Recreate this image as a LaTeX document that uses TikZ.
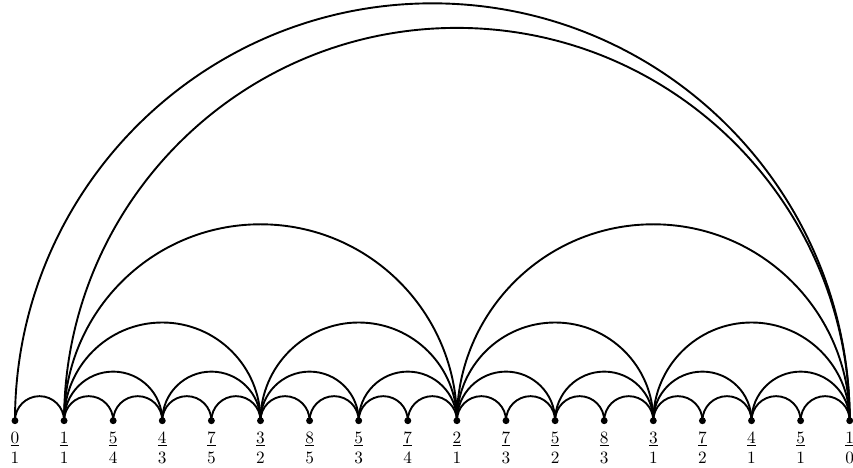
\documentclass[tikz,border=0pt]{standalone}
\usetikzlibrary{positioning}

\begin{document}
\begin{tikzpicture}[x=1cm,y=1cm,line width=1.1pt,
        dot/.style={circle, fill, inner sep=0pt, minimum size=4pt},
        frac/.style={inner sep=0pt, align=center}]
    \useasboundingbox (-0.305,-0.963) rectangle (17.067,8.568);
    % points on the line with their labels
    \foreach \num/\den [count=\i from 0] in {0/1,1/1,5/4,4/3,7/5,3/2,8/5,5/3,7/4,2/1,7/3,5/2,8/3,3/1,7/2,4/1,5/1,1/0} {
        \node (p\i) [dot] at (\i,0) {};
        \node (l\i) [frac, below=3.5pt of p\i] {$\underline{\num}$\\$\den$};
    }
    % arcs between neighbours
    \foreach \a/\b in {0/1,1/2,2/3,3/4,4/5,5/6,6/7,7/8,8/9,9/10,10/11,11/12,12/13,13/14,14/15,15/16,16/17,
                       1/3,3/5,5/7,7/9,9/11,11/13,13/15,15/17,
                       1/5,5/9,9/13,13/17,
                       1/9,9/17,
                       1/17,0/17}
        \draw (p\a.center) arc[start angle=180, end angle=0, radius={(\b-\a)/2}];
\end{tikzpicture}
\end{document}
